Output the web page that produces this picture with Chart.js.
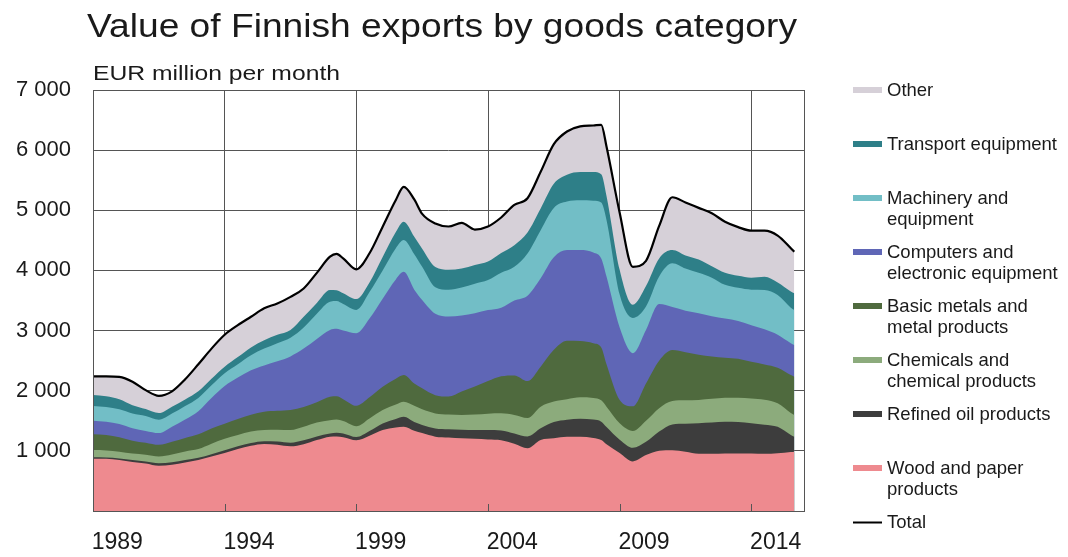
<!DOCTYPE html>
<html><head><meta charset="utf-8">
<script src="https://cdn.jsdelivr.net/npm/chart.js@4.4.1/dist/chart.umd.min.js"></script>
<style>html,body{margin:0;padding:0;background:#fff}#wrap{width:1068px;height:557px;position:relative}</style>
</head><body><div id="wrap"><canvas id="c" width="1068" height="557"></canvas></div>
<script>
const titleText = 'Value of Finnish exports by goods category';
const unitText = 'EUR million per month';
const years = [1988.0,1988.5,1989.0,1989.5,1990.0,1990.5,1991.0,1991.5,1992.0,1992.5,1993.0,1993.5,1994.0,1994.5,1995.0,1995.5,1996.0,1996.5,1997.0,1997.25,1997.5,1998.0,1998.5,1999.0,1999.5,1999.8,2000.2,2000.5,2001.0,2001.5,2002.0,2002.5,2003.0,2003.5,2004.0,2004.5,2005.0,2005.5,2006.0,2006.5,2007.0,2007.3,2007.5,2008.0,2008.5,2009.0,2009.5,2010.0,2010.5,2011.0,2011.5,2012.0,2012.5,2013.0,2013.5,2014.0,2014.5,2014.63];
const woodPaper = [870,868,850,815,790,752,770,808,850,905,965,1030,1085,1115,1100,1075,1110,1180,1236,1240,1225,1175,1250,1345,1390,1402,1335,1295,1236,1222,1210,1200,1190,1178,1120,1045,1181,1210,1236,1236,1215,1180,1110,965,825,930,1000,1010,985,950,952,957,958,955,950,960,982,987];
const refinedOil = [23,23,25,32,35,43,42,40,35,40,45,45,45,45,55,60,65,60,54,60,65,55,80,110,140,166,145,135,137,138,140,147,157,162,170,195,194,270,282,299,305,305,285,220,225,220,320,430,465,508,518,525,522,505,485,440,283,249];
const chemicals = [121,117,110,108,110,111,128,142,145,175,190,190,190,185,195,210,225,230,220,220,205,180,210,223,240,250,270,260,249,245,248,258,271,284,306,305,360,340,342,355,360,355,340,273,280,350,390,390,390,388,395,403,405,410,415,390,365,360];
const basicMetals = [261,254,240,215,200,194,210,225,245,250,250,265,280,305,315,335,330,340,390,390,365,340,350,387,430,444,370,350,303,297,387,465,542,616,659,615,665,860,970,935,910,880,705,388,410,620,790,847,800,754,705,665,645,610,585,590,630,638];
const computers = [227,223,220,205,195,195,250,305,385,510,630,690,740,770,825,890,970,1050,1110,1120,1140,1205,1310,1465,1650,1714,1560,1470,1355,1333,1267,1220,1180,1140,1245,1420,1470,1540,1510,1515,1510,1480,1457,1204,885,890,940,713,690,690,670,650,630,610,585,550,530,527];
const machinery = [244,245,245,245,250,223,220,225,220,210,210,220,250,280,300,310,350,420,471,460,440,388,440,470,520,531,590,550,440,443,463,490,500,580,560,700,800,820,805,825,860,930,942,550,585,390,460,729,700,670,640,560,550,590,655,660,590,582];
const transport = [183,180,170,140,115,112,115,110,110,110,110,120,130,140,140,130,180,180,194,180,180,180,160,225,270,304,290,300,335,332,315,310,310,330,360,350,360,400,445,470,475,470,400,410,220,340,300,221,220,220,190,200,200,200,220,210,270,277];
const other = [311,330,370,390,315,285,255,335,450,500,530,530,510,530,520,550,470,500,554,605,580,496,485,503,532,579,620,580,725,720,760,590,580,590,670,570,610,660,720,760,775,820,821,950,630,420,540,877,880,860,880,850,810,781,766,780,720,690];
const total = [2240,2240,2230,2150,2010,1915,1990,2190,2440,2700,2930,3090,3230,3370,3450,3560,3700,3960,4229,4275,4200,4019,4285,4728,5172,5390,5180,4940,4780,4730,4790,4680,4730,4880,5090,5200,5640,6100,6310,6395,6410,6420,6060,4960,4060,4160,4740,5217,5130,5040,4950,4810,4720,4661,4661,4580,4370,4310];
const xTickLabels = ['1989','1994','1999','2004','2009','2014'];
const xGridYears = [1993,1998,2003,2008,2013,2015];
const yTicks = [0,1000,2000,3000,4000,5000,6000,7000];
const seriesNames = ['Wood and paper products','Refined oil products','Chemicals and chemical products','Basic metals and metal products','Computers and electronic equipment','Machinery and equipment','Transport equipment','Other'];
const legendLines = {
  'Other':['Other'],
  'Transport equipment':['Transport equipment'],
  'Machinery and equipment':['Machinery and','equipment'],
  'Computers and electronic equipment':['Computers and','electronic equipment'],
  'Basic metals and metal products':['Basic metals and','metal products'],
  'Chemicals and chemical products':['Chemicals and','chemical products'],
  'Refined oil products':['Refined oil products'],
  'Wood and paper products':['Wood and paper','products'],
  'Total':['Total']
};
const seriesData = [woodPaper, refinedOil, chemicals, basicMetals, computers, machinery, transport, other];
const seriesColors = ['#ee8a8f','#3d3d3d','#8cab7c','#4f6a3e','#5f66b6','#72bec6','#2e7f88','#d6d0d8'];

const FONT = '"Liberation Sans", Arial, sans-serif';
const INK = '#1a1a1a';
const GRID = '#555555';

const stacked = seriesData.map((d, i) => ({
  label: seriesNames[i], data: d, backgroundColor: seriesColors[i], borderColor: seriesColors[i],
  borderWidth: 0, pointRadius: 0, fill: 'origin', cubicInterpolationMode: 'monotone', stack: 'goods'
}));
const totalDs = {label: 'Total', data: total, borderColor: '#000', backgroundColor: '#000', borderWidth: 2.2,
  pointRadius: 0, fill: false, cubicInterpolationMode: 'monotone', stack: 'total'};

const decor = {
  id: 'decor',
  afterDatasetsDraw(chart) {
    const {ctx, chartArea: a} = chart;
    const xs = chart.scales.x;
    ctx.save();
    ctx.strokeStyle = GRID; ctx.lineWidth = 1;
    ctx.beginPath();
    xGridYears.slice(0, -1).forEach(v => {
      const px = Math.round(xs.getPixelForValue(v)) + 0.5;
      ctx.moveTo(px, a.bottom); ctx.lineTo(px, a.bottom - 7);
    });
    ctx.stroke();
    ctx.strokeRect(Math.round(a.left) + 0.5, Math.round(a.top) + 0.5, Math.round(a.right - a.left), Math.round(a.bottom - a.top));
    ctx.restore();
  },
  afterDraw(chart) {
    const ctx = chart.ctx;
    ctx.save();
    ctx.fillStyle = INK;
    ctx.textBaseline = 'alphabetic';
    ctx.textAlign = 'left';
    const drawFit = (txt, font, x, y, w) => {
      ctx.font = font;
      const m = ctx.measureText(txt).width;
      ctx.save(); ctx.translate(x, y); ctx.scale(w / m, 1); ctx.fillText(txt, 0, 0); ctx.restore();
    };
    drawFit(titleText, '33px ' + FONT, 87, 37, 710);
    drawFit(unitText, '21px ' + FONT, 93, 80, 247);
    // legend
    const items = chart.data.datasets.slice().reverse();
    const order = items.filter(d => d.label !== 'Total').concat(items.filter(d => d.label === 'Total'));
    ctx.font = '18.5px ' + FONT;
    order.forEach((ds, i) => {
      const cy = 89.7 + 54 * i;
      if (ds.label === 'Total') {
        ctx.strokeStyle = '#000'; ctx.lineWidth = 2;
        ctx.beginPath(); ctx.moveTo(853, Math.round(cy) + 0.5); ctx.lineTo(882, Math.round(cy) + 0.5); ctx.stroke();
      } else {
        ctx.fillStyle = ds.backgroundColor;
        ctx.fillRect(853, Math.round(cy - 3), 29, 6);
      }
      ctx.fillStyle = INK;
      (legendLines[ds.label] || [ds.label]).forEach((ln, j) => ctx.fillText(ln, 887, cy + 6.5 + 21 * j));
    });
    ctx.restore();
  }
};

new Chart(document.getElementById('c'), {
  type: 'line',
  data: {labels: years, datasets: [totalDs, ...stacked.slice()]},
  plugins: [decor],
  options: {
    responsive: false, devicePixelRatio: 1, animation: false,
    layout: {padding: {left: 0, top: 90, right: 264, bottom: 0}},
    plugins: {legend: {display: false}, title: {display: false}, tooltip: {enabled: false}},
    elements: {line: {tension: 0}},
    scales: {
      x: {type: 'linear', min: 1988, max: 2015, position: 'bottom',
        afterBuildTicks: s => { s.ticks = xGridYears.map(v => ({value: v})); },
        afterFit: s => { s.height = 0; },
        ticks: {display: false}, border: {display: false},
        grid: {color: GRID, lineWidth: 1, drawTicks: false}},
      x2: {type: 'linear', min: 1988, max: 2015, position: 'bottom',
        afterBuildTicks: s => { s.ticks = xTickLabels.map(l => ({value: Number(l)})); },
        afterFit: s => { s.height = 46; },
        grid: {display: false, drawTicks: false}, border: {display: false},
        ticks: {autoSkip: false, maxRotation: 0, padding: 18, labelOffset: -2, color: INK,
          font: {family: FONT, size: 23}, callback: (v, i) => xTickLabels[i]}},
      y: {stacked: true, min: 0, max: 7000,
        afterBuildTicks: s => { s.ticks = yTicks.map(v => ({value: v})); },
        afterFit: s => { s.width = 93; },
        border: {display: false},
        grid: {color: GRID, lineWidth: 1, drawTicks: false},
        ticks: {padding: 22, color: INK, font: {family: FONT, size: 22},
          callback: v => v === 0 ? '' : String(v).replace(/(\d)(\d{3})$/, '$1 $2')}}
    }
  }
});
</script></body></html>
